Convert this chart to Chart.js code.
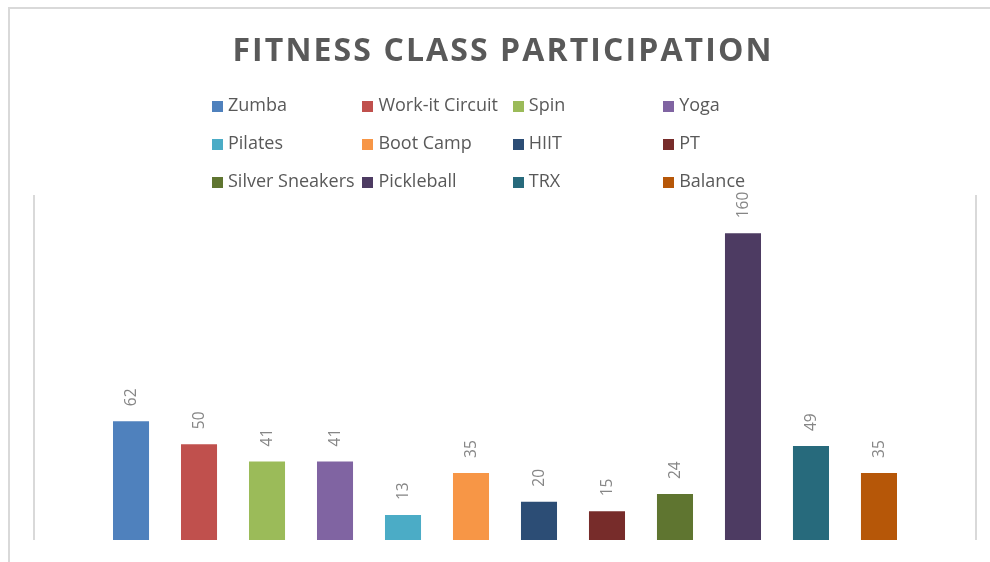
<html>
<head>
    <meta charset="UTF-8">
    <title>Fitness Class Participation</title>
    <script src="https://cdn.jsdelivr.net/npm/chart.js"></script>
    <style>
        body { margin: 0; background: #fff; }
        #wrap { position: relative; width: 990px; height: 562px; overflow: hidden; font-family: "Open Sans", sans-serif; }
        #frame { position: absolute; left: 8px; top: 7px; width: 990px; height: 570px;
                 border-top: 2px solid #d9d9d9; border-left: 2px solid #d9d9d9; }
        #title { position: absolute; left: 8px; width: 990px; top: 27px; text-align: center;
                 font-size: 32px; font-weight: bold; color: #595959; letter-spacing: 2.1px; }
        #legend { position: absolute; left: 212px; top: 92px; }
        .item { position: absolute; height: 24px; line-height: 24px; font-size: 18px; color: #595959; white-space: nowrap; }
        .item span { display: inline-block; width: 11px; height: 11px; margin-right: 5px; vertical-align: -1px; }
        canvas { position: absolute; left: 0; top: 0; }
    </style>
</head>
<body>
<div id="wrap">
    <div id="frame"></div>
    <canvas id="fitChart" width="990" height="562"></canvas>
    <div id="title">FITNESS CLASS PARTICIPATION</div>
    <div id="legend"></div>
</div>

<script>
    // class names, attendance counts and colours
    const classes = ["Zumba", "Work-it Circuit", "Spin", "Yoga", "Pilates", "Boot Camp",
                     "HIIT", "PT", "Silver Sneakers", "Pickleball", "TRX", "Balance"];
    const participants = [62, 50, 41, 41, 13, 35, 20, 15, 24, 160, 49, 35];
    const colors = ["#4f81bd", "#c0504d", "#9bbb59", "#8064a2", "#4bacc6", "#f79646",
                    "#2c4d75", "#772c2a", "#5f7530", "#4d3b62", "#276a7c", "#b65708"];

    // legend, 4 columns x 3 rows like the original
    const legend = document.getElementById('legend');
    classes.forEach((name, i) => {
        const div = document.createElement('div');
        div.className = 'item';
        div.style.left = (i % 4) * 150.4 + 'px';
        div.style.top = Math.floor(i / 4) * 38 + 'px';
        div.innerHTML = '<span style="background:' + colors[i] + '"></span>' + name;
        legend.appendChild(div);
    });

    // rotated value labels above each bar
    const valueLabels = {
        id: 'valueLabels',
        afterDatasetsDraw(chart) {
            const ctx = chart.ctx;
            ctx.save();
            ctx.font = '15.5px "Open Sans"';
            ctx.fillStyle = '#868686';
            ctx.textAlign = 'left';
            ctx.textBaseline = 'middle';
            chart.data.datasets.forEach((ds, i) => {
                const bar = chart.getDatasetMeta(i).data[0];
                ctx.save();
                ctx.translate(bar.x, bar.y - 15);
                ctx.rotate(-Math.PI / 2);
                ctx.fillText(ds.data[0], 0, 1);
                ctx.restore();
            });
            ctx.restore();
        }
    };

    const ctx = document.getElementById('fitChart').getContext('2d');
    new Chart(ctx, {
        type: 'bar',
        data: {
            labels: ['Participation'],
            datasets: classes.map((name, i) => ({
                label: name,
                data: [participants[i]],
                backgroundColor: colors[i],
                categoryPercentage: 0.8662,
                barPercentage: 0.53
            }))
        },
        options: {
            responsive: false,
            animation: false,
            layout: { padding: { left: 34, right: 14, top: 195, bottom: 22 } },
            scales: {
                x: {
                    grid: { color: '#d9d9d9', lineWidth: 2, drawTicks: false, offset: true },
                    border: { display: false },
                    ticks: { display: false }
                },
                y: {
                    display: false,
                    min: 0,
                    max: 180
                }
            },
            plugins: {
                legend: { display: false },
                tooltip: { enabled: false }
            }
        },
        plugins: [valueLabels]
    });
</script>
</body>
</html>
